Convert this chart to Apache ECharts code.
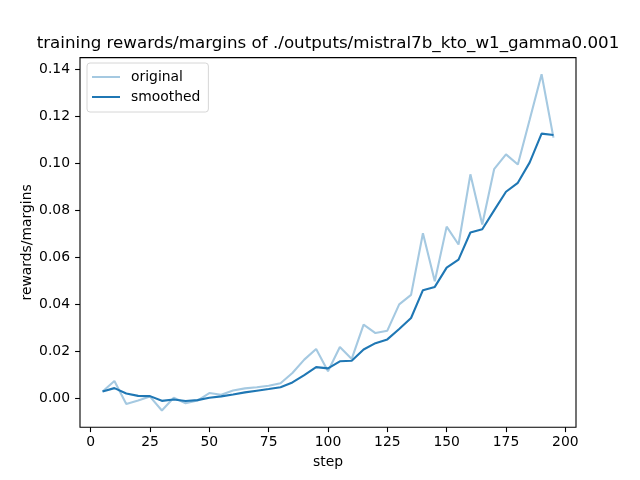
<!DOCTYPE html>
<html>
<head>
<meta charset="utf-8">
<script src="https://cdn.jsdelivr.net/npm/echarts@6/dist/echarts.min.js"></script>
<style>
  html, body { margin: 0; padding: 0; background: #fff; }
  #chart { width: 640px; height: 480px; }
</style>
</head>
<body>
<div id="chart"></div>
<script>
// values
var steps = [5, 10, 15, 20, 25, 30, 35, 40, 45, 50, 55, 60, 65, 70, 75, 80, 85, 90, 95, 100,
  105, 110, 115, 120, 125, 130, 135, 140, 145, 150, 155, 160, 165, 170, 175, 180, 185, 190, 195];
var original = [0.0030, 0.0074, -0.0023, -0.0009, 0.0008, -0.0051, 0.0003, -0.0020, -0.0009, 0.0023,
  0.0016, 0.0034, 0.0043, 0.0048, 0.0054, 0.0065, 0.0108, 0.0165, 0.0210, 0.0116,
  0.0219, 0.0168, 0.0314, 0.0278, 0.0288, 0.0400, 0.0440, 0.0702, 0.0498, 0.0730,
  0.0654, 0.0952, 0.0739, 0.0974, 0.1037, 0.0994, 0.1185, 0.1377, 0.1108];
var smoothed = [0.0030, 0.0044, 0.0021, 0.0011, 0.0010, -0.0010, -0.0004, -0.0011, -0.0007, 0.0003,
  0.0009, 0.0017, 0.0026, 0.0033, 0.0040, 0.0048, 0.0068, 0.0099, 0.0133, 0.0128,
  0.0158, 0.0160, 0.0208, 0.0235, 0.0251, 0.0295, 0.0342, 0.0460, 0.0474, 0.0556,
  0.0590, 0.0705, 0.0719, 0.0799, 0.0878, 0.0916, 0.1003, 0.1125, 0.1119];
var xTicks = [0, 25, 50, 75, 100, 125, 150, 175, 200];
var yTicks = [0, 0.02, 0.04, 0.06, 0.08, 0.10, 0.12, 0.14];

var FONT = 'DejaVu Sans';
var chart = echarts.init(document.getElementById('chart'), null, { renderer: 'canvas' });

function pairs(ys) {
  return steps.map(function (s, i) { return [s, ys[i]]; });
}

var option = {
  animation: false,
  backgroundColor: '#fff',
  title: {
    text: 'training rewards/margins of ./outputs/mistral7b_kto_w1_gamma0.001',
    left: 328,
    textAlign: 'center',
    top: 35,
    padding: 0,
    textStyle: { fontFamily: FONT, fontSize: 16.7, fontWeight: 'normal', color: '#000' }
  },
  legend: {
    orient: 'vertical',
    left: 87,
    top: 63,
    padding: [7, 8, 8, 5],
    itemGap: 6,
    itemWidth: 28,
    itemHeight: 2,
    backgroundColor: 'rgba(255,255,255,0.8)',
    borderColor: '#d6d6d6',
    borderWidth: 1,
    borderRadius: 3,
    data: [{ name: 'original', icon: 'rect' }, { name: 'smoothed', icon: 'rect' }],
    textStyle: { fontFamily: FONT, fontSize: 13.9, color: '#000', padding: [0, 0, 0, 6] }
  },
  grid: {
    left: 80, right: 64, top: 57.6, bottom: 52.8,
    show: true, borderColor: '#000', borderWidth: 1.1, backgroundColor: 'transparent'
  },
  xAxis: {
    type: 'value',
    min: -4.5,
    max: 204.5,
    name: 'step',
    nameLocation: 'middle',
    nameGap: 28,
    nameMoveOverlap: false,
    nameTextStyle: { fontFamily: FONT, fontSize: 13.9, color: '#000' },
    axisLine: { show: false, onZero: false },
    axisTick: { show: true, length: 4.9, lineStyle: { color: '#000', width: 1.1 }, customValues: xTicks },
    axisLabel: { fontFamily: FONT, fontSize: 13.9, color: '#000', margin: 8, customValues: xTicks },
    splitLine: { show: false }
  },
  yAxis: {
    type: 'value',
    min: -0.0122,
    max: 0.1448,
    name: 'rewards/margins',
    nameLocation: 'middle',
    nameGap: 46,
    nameMoveOverlap: false,
    nameTextStyle: { fontFamily: FONT, fontSize: 13.9, color: '#000' },
    axisLine: { show: false, onZero: false },
    axisTick: { show: true, length: 4.9, lineStyle: { color: '#000', width: 1.1 }, customValues: yTicks },
    axisLabel: {
      fontFamily: FONT, fontSize: 13.9, color: '#000', margin: 10, customValues: yTicks,
      formatter: function (v) { return v.toFixed(2); }
    },
    splitLine: { show: false }
  },
  series: [{
    name: 'original',
    type: 'line',
    data: pairs(original),
    showSymbol: false,
    color: '#a5c9e1',
    lineStyle: { color: '#a5c9e1', width: 2.1 },
    z: 2
  }, {
    name: 'smoothed',
    type: 'line',
    data: pairs(smoothed),
    showSymbol: false,
    color: '#1f77b4',
    lineStyle: { color: '#1f77b4', width: 2.1 },
    z: 3
  }]
};
chart.setOption(option);
</script>
</body>
</html>
